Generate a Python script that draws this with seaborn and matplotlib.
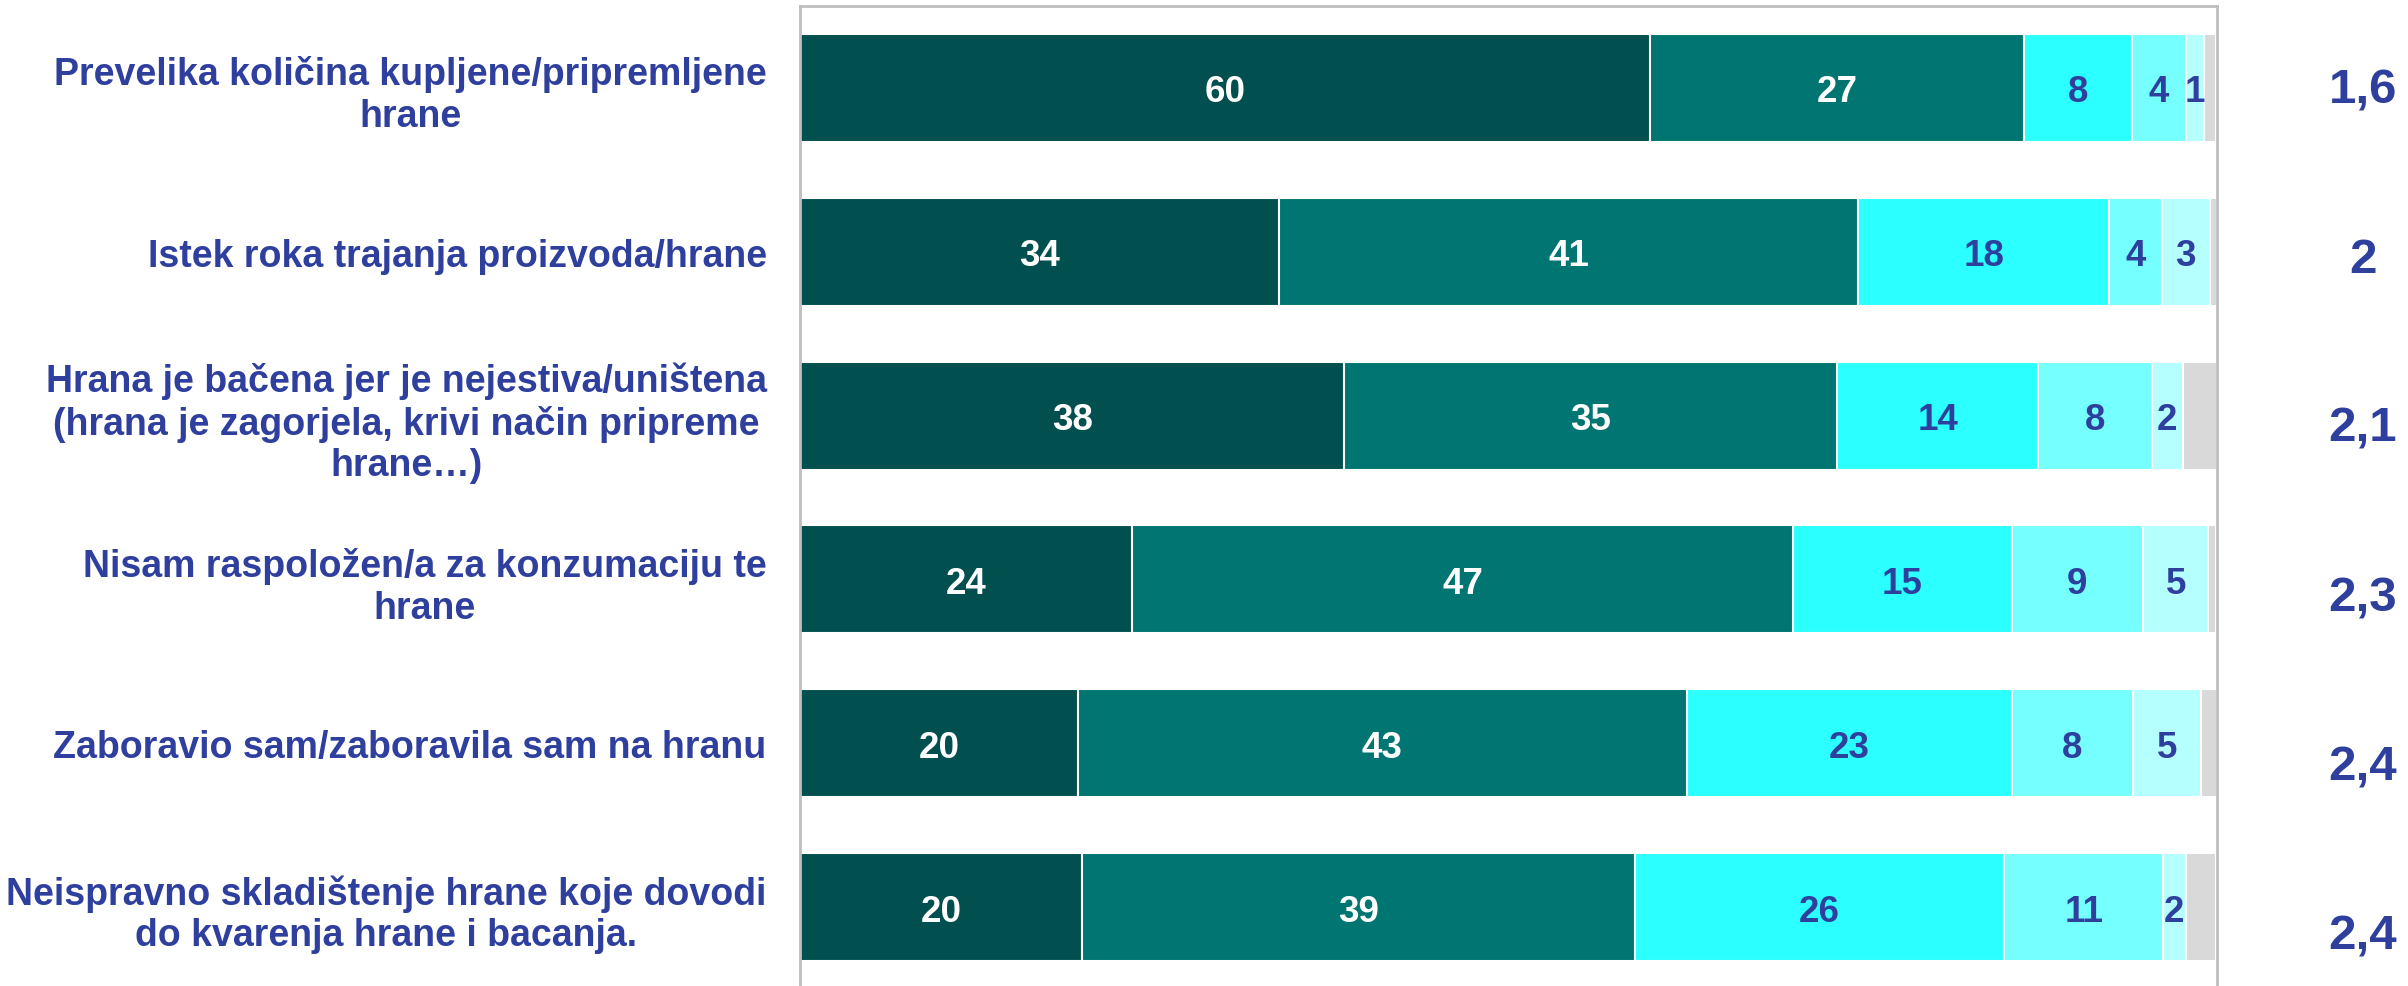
import matplotlib
matplotlib.use("Agg")
import matplotlib.pyplot as plt
import seaborn as sns
import pandas as pd
import numpy as np

# ---------------- data ----------------
categories = [
    "Prevelika količina kupljene/pripremljene\nhrane",
    "Istek roka trajanja proizvoda/hrane",
    "Hrana je bačena jer je nejestiva/uništena\n(hrana je zagorjela, krivi način pripreme\nhrane…)",
    "Nisam raspoložen/a za konzumaciju te\nhrane",
    "Zaboravio sam/zaboravila sam na hranu",
    "Neispravno skladištenje hrane koje dovodi\ndo kvarenja hrane i bacanja.",
]
series_names = ["1", "2", "3", "4", "5", "n/a"]
s1 = [60.0, 33.8, 38.4, 23.4, 19.6, 19.9]
s2 = [26.4, 40.9, 34.8, 46.7, 43.0, 39.0]
s3 = [7.6, 17.7, 14.2, 15.4, 22.9, 26.1]
s4 = [3.8, 3.7, 8.0, 9.3, 8.6, 11.2]
s5 = [1.3, 3.4, 2.2, 4.6, 4.8, 1.6]
s6 = [0.8, 0.5, 2.4, 0.5, 1.1, 2.1]
lab1 = ["60", "34", "38", "24", "20", "20"]
lab2 = ["27", "41", "35", "47", "43", "39"]
lab3 = ["8", "18", "14", "15", "23", "26"]
lab4 = ["4", "4", "8", "9", "8", "11"]
lab5 = ["1", "3", "2", "5", "5", "2"]
means = ["1,6", "2", "2,1", "2,3", "2,4", "2,4"]

colors = ["#024F4F", "#007571", "#2BFFFF", "#75FFFF", "#B5FFFF", "#D9D9D9"]
text_colors = ["white", "white", "#2E3F9E", "#2E3F9E", "#2E3F9E", None]
BLUE = "#2E3F9E"

series = [s1, s2, s3, s4, s5, s6]
labels = [lab1, lab2, lab3, lab4, lab5, None]

sns.set_theme(style="white")
plt.rcParams["font.family"] = ["Liberation Sans", "DejaVu Sans"]
plt.rcParams["font.weight"] = "bold"

W, H = 2408, 987
fig = plt.figure(figsize=(W / 100, H / 100), dpi=100)
ax = fig.add_axes([800 / W, -3 / H, 1417 / W, 983 / H])

vals = np.array(series)              # shape (6 series, 6 categories)
cum = np.cumsum(vals, axis=0)

# draw cumulative layers from the largest to the smallest
for k in range(len(series) - 1, -1, -1):
    df = pd.DataFrame({"cat": categories, "val": cum[k]})
    sns.barplot(data=df, x="val", y="cat", order=categories, orient="h",
                color=colors[k], saturation=1, width=0.66, errorbar=None,
                edgecolor="white", linewidth=1.5, ax=ax)

# segment labels
for k in range(5):
    for i in range(len(categories)):
        cx = cum[k][i] - vals[k][i] / 2
        ax.text(cx, i, labels[k][i], ha="center", va="center_baseline",
                fontsize=26.5, fontweight="bold", color=text_colors[k])

ax.set_xlim(0, 100)
ax.set_ylim(5.5, -0.5)
ax.set_xlabel("")
ax.set_ylabel("")
ax.set_xticks([])
ax.tick_params(axis="y", length=0, pad=24)
for t in ax.get_yticklabels():
    t.set_multialignment("center")
    t.set_fontsize(27)
    t.set_fontweight("bold")
    t.set_color(BLUE)
    t.set_linespacing(1.2)
for sp in ax.spines.values():
    sp.set_visible(True)
    sp.set_color("#BFBFBF")
    sp.set_linewidth(2)

# mean scores on the right
ax2 = ax.twinx()
ax2.set_ylim(5.343, -0.467)
ax2.set_yticks([])
for sp in ax2.spines.values():
    sp.set_visible(False)
for i, m in enumerate(means):
    ax2.text(1.0 + 146 / 1417, i, m, transform=ax2.get_yaxis_transform(),
             ha="center", va="center_baseline", fontsize=35.5,
             fontweight="bold", color=BLUE)

fig.savefig("out.png", dpi=100)
